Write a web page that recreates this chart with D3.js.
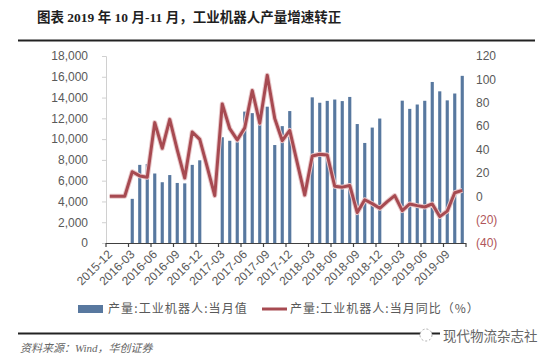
<!DOCTYPE html>
<html><head><meta charset="utf-8">
<script src="https://cdn.jsdelivr.net/npm/d3@7"></script>
<style>
html,body{margin:0;padding:0;background:#fff;}
svg{display:block;}
</style></head>
<body>
<svg id="c" width="553" height="363"></svg>
<script>
const months = ["2015-12","2016-01","2016-02","2016-03","2016-04","2016-05","2016-06","2016-07","2016-08","2016-09","2016-10","2016-11","2016-12",
"2017-01","2017-02","2017-03","2017-04","2017-05","2017-06","2017-07","2017-08","2017-09","2017-10","2017-11","2017-12",
"2018-01","2018-02","2018-03","2018-04","2018-05","2018-06","2018-07","2018-08","2018-09","2018-10","2018-11","2018-12",
"2019-01","2019-02","2019-03","2019-04","2019-05","2019-06","2019-07","2019-08","2019-09","2019-10","2019-11"];
const production = [null,null,null,4250,7520,7600,6690,5850,6540,5780,5740,7520,7960,
null,null,10180,9840,9700,12650,12500,11500,13120,9430,11250,12700,
null,null,14020,13500,13680,13810,13660,14060,11450,9630,11110,11980,
null,null,13700,12910,13330,13690,15500,14600,13730,14390,16090];
const yoy = [0,0,0,21,17.4,16.2,63,41,65.8,39.6,15.6,55,48.7,
25,0.5,79,57.8,48.2,58.5,90.5,62.5,103.6,66.5,47.5,56.3,
28.5,1,34.4,36,35.3,8.5,7.8,9.2,-14,-3,-6.3,-10.3,
-4.6,0.6,-12.3,-6.6,-8,-9.2,-6.6,-17.4,-12.7,3,5];
const xTickLabels = ["2015-12","2016-03","2016-06","2016-09","2016-12","2017-03","2017-06","2017-09","2017-12","2018-03","2018-06","2018-09","2018-12","2019-03","2019-06","2019-09"];
const leftTicks = [0,2000,4000,6000,8000,10000,12000,14000,16000,18000];
const rightTicks = [-40,-20,0,20,40,60,80,100,120];
const titleText = "图表 2019 年 10 月-11 月，工业机器人产量增速转正";
const legendNames = ["产量:工业机器人:当月值","产量:工业机器人:当月同比（%）"];
const sourceText = "资料来源：Wind，华创证券";
const watermarkText = "现代物流杂志社";

const svg = d3.select("#c");
const L = 106, R = 466, T = 56, B = 243;
const x = d3.scaleBand().domain(months).range([L, R]).padding(0);
const yL = d3.scaleLinear().domain([0,18000]).range([B,T]);
const yR = d3.scaleLinear().domain([-40,120]).range([B,T]);
const barColor = "#58789f", lineColor = "#a74a51", txt = "#595959";
const sans = "'Liberation Sans', Arial, sans-serif";
const cjk = "'Liberation Serif','Noto Sans CJK SC',serif";

// title
svg.append("text").attr("x",37).attr("y",22).attr("font-family",cjk).attr("font-weight","bold")
  .attr("font-size",13.5).attr("fill","#1f1f1f").text(titleText);
svg.append("line").attr("x1",18).attr("x2",535).attr("y1",40.5).attr("y2",40.5).attr("stroke","#222").attr("stroke-width",2);

// left axis
const gL = svg.append("g").attr("transform",`translate(${L},0)`)
  .call(d3.axisLeft(yL).tickValues(leftTicks).tickFormat(d3.format(",")).tickSize(4).tickPadding(14));
gL.select(".domain").attr("stroke","#d0d0d0");
gL.selectAll(".tick line").attr("stroke","#d0d0d0");
gL.selectAll("text").attr("font-family",sans).attr("font-size",12).attr("fill",txt);

// right axis
const gR = svg.append("g").attr("transform",`translate(${R},0)`)
  .call(d3.axisRight(yR).tickValues(rightTicks).tickFormat(d => d < 0 ? `(${-d})` : d).tickSize(0).tickPadding(10));
gR.select(".domain").remove();
gR.selectAll("text").attr("font-family",sans).attr("font-size",12)
  .attr("fill", d => d < 0 ? "#b0555a" : txt);

// bars
const bw = x.bandwidth()*0.42;
svg.append("g").selectAll("rect").data(months.map((m,i)=>({m,v:production[i]})).filter(d=>d.v!=null))
  .enter().append("rect")
  .attr("x", d => x(d.m) + (x.bandwidth()-bw)/2)
  .attr("width", bw)
  .attr("y", d => yL(d.v))
  .attr("height", d => B - yL(d.v))
  .attr("fill", barColor);

// x axis
const tickIdx = d3.range(0, months.length+1, 3);
const gX = svg.append("g");
gX.append("line").attr("x1",L).attr("x2",R).attr("y1",B+0.5).attr("y2",B+0.5).attr("stroke","#404040").attr("stroke-width",1.2);
gX.selectAll("line.t").data(tickIdx).enter().append("line").attr("class","t")
  .attr("x1", i => i < months.length ? x(months[i]) : R).attr("x2", i => i < months.length ? x(months[i]) : R)
  .attr("y1",B).attr("y2",B+4).attr("stroke","#404040").attr("stroke-width",1.2);
gX.selectAll("text").data(xTickLabels).enter().append("text")
  .attr("transform", d => `translate(${x(d)+4},${B+9}) rotate(-45)`)
  .attr("text-anchor","end").attr("dy","0.35em")
  .attr("font-family",sans).attr("font-size",12).attr("fill",txt).text(d => d);

// line
const line = d3.line().x((d,i)=>x(months[i])+x.bandwidth()/2).y(d=>yR(d));
svg.append("path").datum(yoy).attr("d",line).attr("fill","none")
  .attr("stroke","#e9c9cb").attr("stroke-width",5).attr("stroke-linejoin","round");
svg.append("path").datum(yoy).attr("d",line).attr("fill","none")
  .attr("stroke",lineColor).attr("stroke-width",3).attr("stroke-linejoin","round");

// legend
const ly = 309;
svg.append("rect").attr("x",78).attr("y",ly-4).attr("width",25).attr("height",8).attr("fill",barColor);
svg.append("text").attr("x",108).attr("y",ly).attr("dy","0.35em").attr("font-family","'Noto Sans CJK SC',sans-serif")
  .attr("font-size",12).attr("letter-spacing",1.1).attr("fill",txt).text(legendNames[0]);
svg.append("line").attr("x1",262).attr("x2",287).attr("y1",ly).attr("y2",ly).attr("stroke",lineColor).attr("stroke-width",3);
svg.append("text").attr("x",290).attr("y",ly).attr("dy","0.35em").attr("font-family","'Noto Sans CJK SC',sans-serif")
  .attr("font-size",12).attr("letter-spacing",1).attr("fill",txt).text(legendNames[1]);

// footer
svg.append("line").attr("x1",18).attr("x2",440).attr("y1",333.5).attr("y2",333.5).attr("stroke","#222").attr("stroke-width",2);
svg.append("text").attr("x",20).attr("y",348).attr("dy","0.35em").attr("font-family",cjk).attr("font-style","italic")
  .attr("font-size",11).attr("fill","#666").text(sourceText);
// watermark
svg.append("circle").attr("cx",426).attr("cy",335).attr("r",6).attr("fill","#fff").attr("stroke","#aaa").attr("stroke-dasharray","2,2");
svg.append("text").attr("x",443).attr("y",336).attr("dy","0.35em").attr("font-family","'Noto Sans CJK SC',sans-serif")
  .attr("font-size",13.5).attr("fill","#666").text(watermarkText);
</script>
</body></html>
